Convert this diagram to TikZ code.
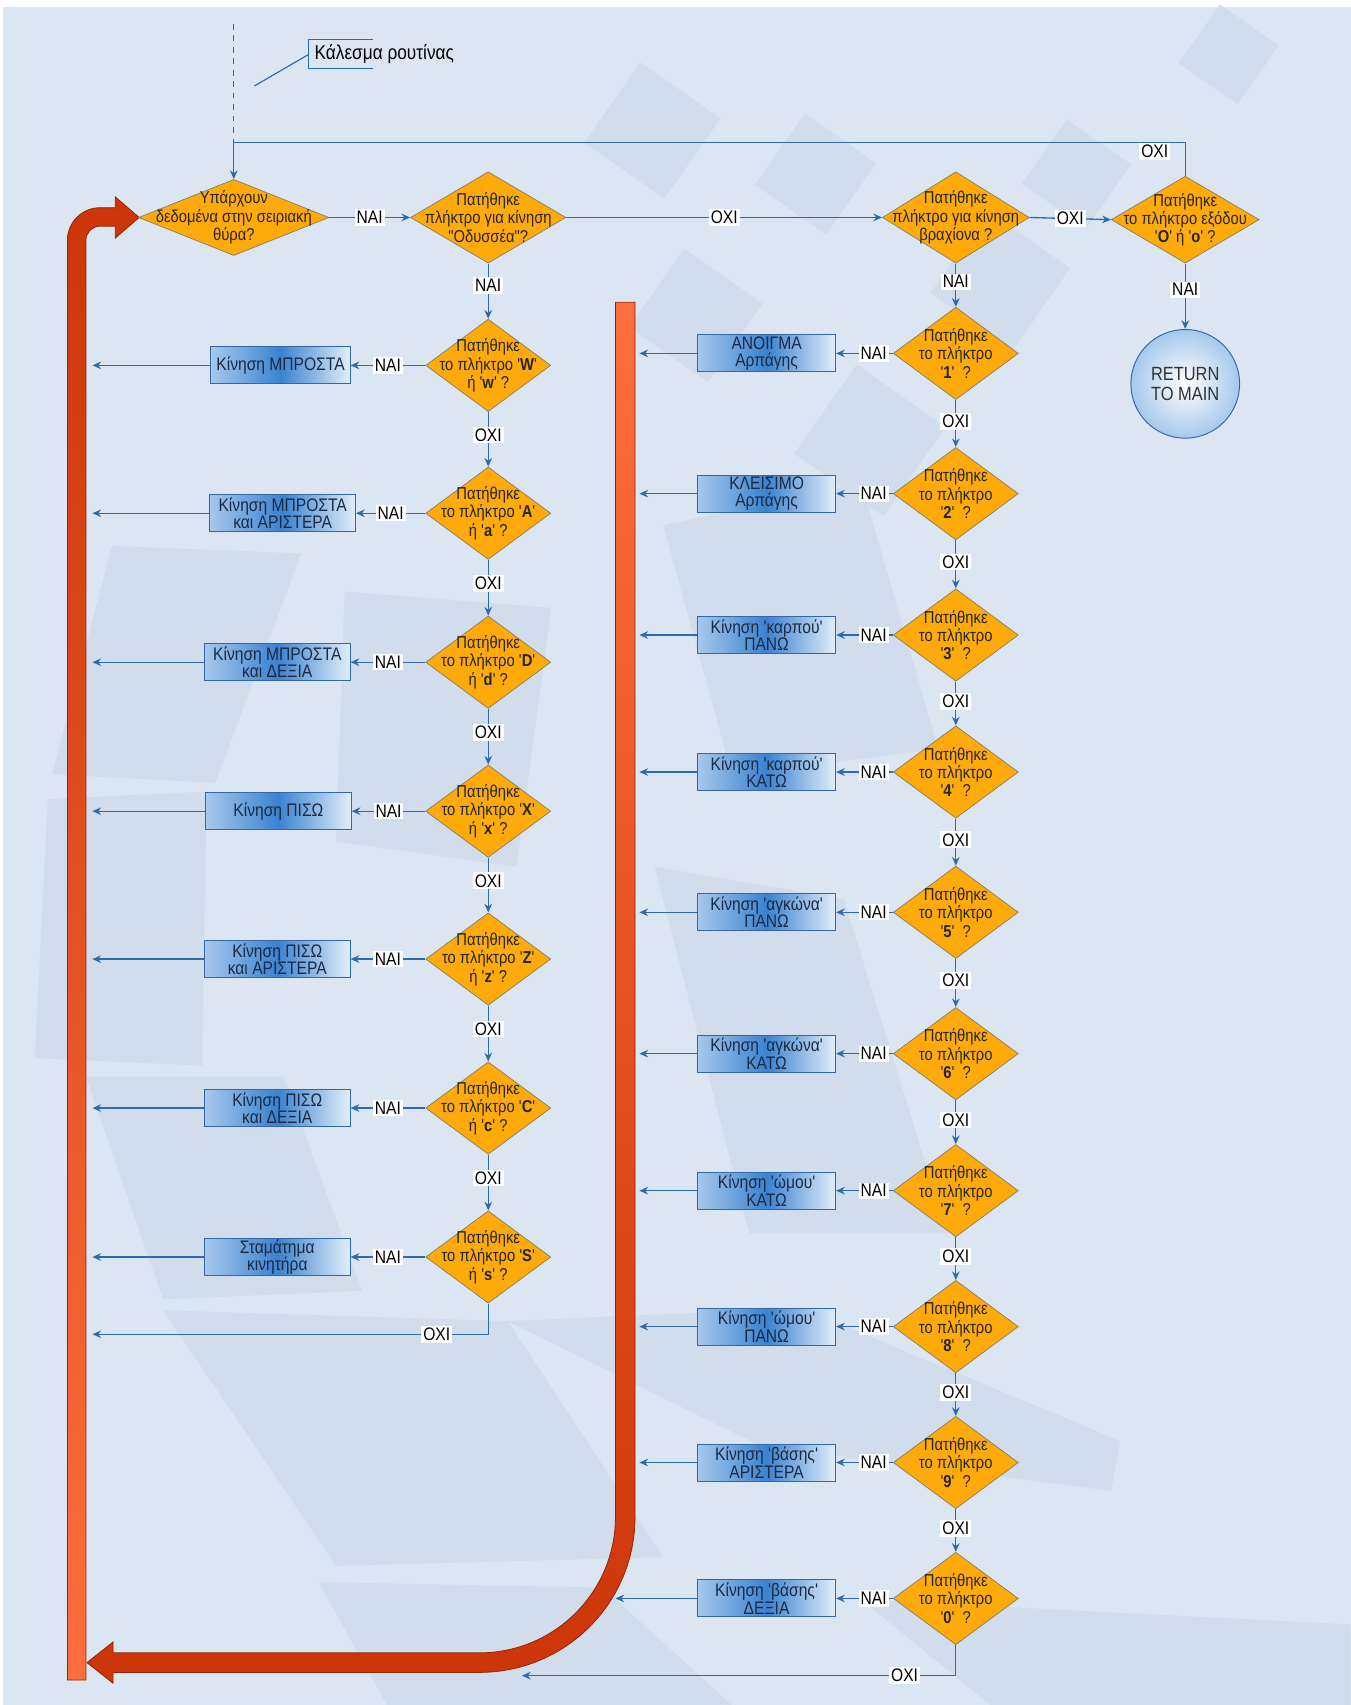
\documentclass[tikz,border=0pt]{standalone}
\usepackage{fontspec}
\newfontfamily\flowfont{Liberation Sans}[FakeStretch=0.86]
\usetikzlibrary{shapes.geometric,arrows.meta}

\definecolor{bgblue}{HTML}{DCE6F2}
\definecolor{wmblue}{HTML}{D1DDEC}
\definecolor{linecol}{HTML}{2E6AAE}
\definecolor{qfill}{HTML}{FDAA0A}
\definecolor{qedge}{HTML}{8C8060}
\definecolor{boxdark}{HTML}{3A82D0}
\definecolor{boxlight}{HTML}{A6C8EC}
\definecolor{boxwhite}{HTML}{E2EEF9}
\definecolor{boxedge}{HTML}{3566A6}
\definecolor{txtnavy}{HTML}{1B2A44}
\definecolor{arrred}{HTML}{CC3508}
\definecolor{arrmid}{HTML}{FF4A12}
\definecolor{arrorange}{HTML}{FF6E3E}

\tikzset{
  flow/.style={draw=linecol, line width=0.7pt, -{Stealth[length=1.6mm,width=1.4mm]}},
  quest/.style={shape=diamond, draw=qedge, fill=qfill, line width=0.4pt,
    minimum width=2.3cm, minimum height=1.7cm, inner sep=0pt},
  qtext/.style={align=center, text=black!85, inner sep=0pt,
    font=\flowfont\fontsize{9}{9.6}\selectfont},
  act/.style={draw=boxedge, line width=0.5pt, left color=boxlight, right color=boxwhite,
    middle color=boxdark, minimum width=2.68cm, minimum height=0.68cm, inner sep=0pt,
    align=center, text=txtnavy, font=\flowfont\fontsize{9.5}{9.2}\selectfont},
  endc/.style={shape=circle, draw=boxedge, line width=0.5pt, inner color=white,
    outer color=boxlight, minimum size=2cm, inner sep=0pt, align=center,
    text=black!80, font=\flowfont\fontsize{10}{10.5}\selectfont},
  lbl/.style={fill=white, inner sep=1pt, font=\flowfont\fontsize{9.5}{10}\selectfont},
  bigarrow/.style={draw=arrred!70!black, line width=0.4pt},
  wm/.style={fill=wmblue}
}

\begin{document}
\begin{tikzpicture}[x=0.02cm, y=-0.02cm]
\useasboundingbox (0,0) rectangle (1242,1568);

% Background and watermark
\fill[white] (0,0) rectangle (1242,1568);
\fill[bgblue] (3,6) rectangle (1242,1568);
\foreach \cx/\cy/\s in {600/120/90, 750/160/80, 990/160/72, 1130/50/66,
                        640/290/88, 920/258/92, 800/405/100}
  \fill[wm, rotate around={-35:(\cx,\cy)}] (\cx-\s/2,\cy-\s/2) rectangle (\cx+\s/2,\cy+\s/2);
\fill[wm] (103,502) -- (277,509) -- (198,720) -- (48,712) -- cycle;
\fill[wm] (44,735) -- (190,728) -- (186,980) -- (32,973) -- cycle;
\fill[wm] (79,990) -- (261,990) -- (333,1187) -- (150,1195) -- cycle;
\fill[wm] (150,1205) -- (467,1215) -- (610,1432) -- (309,1440) -- cycle;
\fill[wm] (293,1455) -- (554,1460) -- (673,1568) -- (356,1568) -- cycle;
\fill[wm] (317,544) -- (507,559) -- (475,797) -- (309,774) -- cycle;
\fill[wm] (610,483) -- (792,444) -- (863,689) -- (673,712) -- cycle;
\fill[wm] (602,797) -- (776,827) -- (871,1134) -- (689,1134) -- cycle;
\fill[wm] (467,1215) -- (737,1203) -- (1030,1325) -- (1022,1371) -- (700,1330) -- cycle;
\fill[wm] (792,1471) -- (1242,1494) -- (1242,1568) -- (911,1568) -- cycle;

% Thick return arrows
\shadedraw[bigarrow, top color=arrred, bottom color=arrorange]
  (62,1545) -- (62,221) .. controls (62,204.4) and (75.4,191) .. (92,191)
  -- (106,191) -- (106,181) -- (128,200) -- (106,219) -- (106,208) -- (92,208)
  .. controls (84.8,208) and (79,213.8) .. (79,221) -- (79,1545) -- cycle;
\shadedraw[bigarrow, top color=arrorange, middle color=arrmid, bottom color=arrred]
  (584,278) -- (584,1395) .. controls (584,1474) and (520,1538) .. (441,1538)
  -- (104,1538) -- (104,1548) -- (80,1529) -- (104,1510) -- (104,1520) -- (441,1520)
  .. controls (510,1520) and (566,1464) .. (566,1395) -- (566,278) -- cycle;

% Nodes
\newcommand{\qnode}[4][]{
	\node[quest, #1, label={[qtext]center:#4}] (#2) at (#3) {};
}
\newcommand{\bnode}[4][]{
	\node[act, #1] (#2) at (#3) {#4};
}
\node[anchor=west, inner sep=0pt, font=\flowfont\fontsize{10.5}{12}\selectfont] (note) at (289,50) {Κάλεσμα ρουτίνας};

\qnode[minimum width=3.5cm, minimum height=1.4cm]{data}{215,200}{Υπάρχουν\\δεδομένα στην σειριακή\\θύρα?}
\qnode[minimum width=2.86cm, minimum height=1.68cm]{odys}{449,200}{Πατήθηκε\\πλήκτρο για κίνηση\\"Οδυσσέα"?}
\qnode[minimum width=2.7cm, minimum height=1.68cm]{arm}{879,200}{Πατήθηκε\\πλήκτρο για κίνηση\\βραχίονα ?}
\qnode[minimum width=2.72cm, minimum height=1.6cm]{quit}{1090,202}{Πατήθηκε\\το πλήκτρο εξόδου\\'\textbf{O}' ή '\textbf{o}' ?}
\node[endc] (ret) at (1090,353) {RETURN\\TO MAIN};

% Left column
\qnode{kW}{449,336}{Πατήθηκε\\το πλήκτρο '\textbf{W}'\\ή '\textbf{w}' ?}
\qnode{kA}{449,472}{Πατήθηκε\\το πλήκτρο '\textbf{A}'\\ή '\textbf{a}' ?}
\qnode{kD}{449,609}{Πατήθηκε\\το πλήκτρο '\textbf{D}'\\ή '\textbf{d}' ?}
\qnode{kX}{449,746}{Πατήθηκε\\το πλήκτρο '\textbf{X}'\\ή '\textbf{x}' ?}
\qnode{kZ}{449,882}{Πατήθηκε\\το πλήκτρο '\textbf{Z}'\\ή '\textbf{z}' ?}
\qnode{kC}{449,1019}{Πατήθηκε\\το πλήκτρο '\textbf{C}'\\ή '\textbf{c}' ?}
\qnode{kS}{449,1156}{Πατήθηκε\\το πλήκτρο '\textbf{S}'\\ή '\textbf{s}' ?}

\bnode[minimum width=2.56cm]{bW}{258,336}{Κίνηση ΜΠΡΟΣΤΑ}
\bnode{bA}{260,472}{Κίνηση ΜΠΡΟΣΤΑ\\και ΑΡΙΣΤΕΡΑ}
\bnode{bD}{255,609}{Κίνηση ΜΠΡΟΣΤΑ\\και ΔΕΞΙΑ}
\bnode{bX}{256,746}{Κίνηση ΠΙΣΩ}
\bnode{bZ}{255,882}{Κίνηση ΠΙΣΩ\\και ΑΡΙΣΤΕΡΑ}
\bnode{bC}{255,1019}{Κίνηση ΠΙΣΩ\\και ΔΕΞΙΑ}
\bnode{bS}{255,1156}{Σταμάτημα\\κινητήρα}

% Right column
\qnode{k1}{879,325}{Πατήθηκε\\το πλήκτρο\\'\textbf{1}'\ \ ?}
\qnode{k2}{879,454}{Πατήθηκε\\το πλήκτρο\\'\textbf{2}'\ \ ?}
\qnode{k3}{879,584}{Πατήθηκε\\το πλήκτρο\\'\textbf{3}'\ \ ?}
\qnode{k4}{879,710}{Πατήθηκε\\το πλήκτρο\\'\textbf{4}'\ \ ?}
\qnode{k5}{879,839}{Πατήθηκε\\το πλήκτρο\\'\textbf{5}'\ \ ?}
\qnode{k6}{879,969}{Πατήθηκε\\το πλήκτρο\\'\textbf{6}'\ \ ?}
\qnode{k7}{879,1095}{Πατήθηκε\\το πλήκτρο\\'\textbf{7}'\ \ ?}
\qnode{k8}{879,1220}{Πατήθηκε\\το πλήκτρο\\'\textbf{8}'\ \ ?}
\qnode{k9}{879,1345}{Πατήθηκε\\το πλήκτρο\\'\textbf{9}'\ \ ?}
\qnode{k0}{879,1470}{Πατήθηκε\\το πλήκτρο\\'\textbf{0}'\ \ ?}

\bnode[minimum width=2.54cm]{b1}{705,325}{ΑΝΟΙΓΜΑ\\Αρπάγης}
\bnode[minimum width=2.54cm]{b2}{705,454}{ΚΛΕΙΣΙΜΟ\\Αρπάγης}
\bnode[minimum width=2.54cm]{b3}{705,584}{Κίνηση 'καρπού'\\ΠΑΝΩ}
\bnode[minimum width=2.54cm]{b4}{705,710}{Κίνηση 'καρπού'\\ΚΑΤΩ}
\bnode[minimum width=2.54cm]{b5}{705,839}{Κίνηση 'αγκώνα'\\ΠΑΝΩ}
\bnode[minimum width=2.54cm]{b6}{705,969}{Κίνηση 'αγκώνα'\\ΚΑΤΩ}
\bnode[minimum width=2.54cm]{b7}{705,1095}{Κίνηση 'ώμου'\\ΚΑΤΩ}
\bnode[minimum width=2.54cm]{b8}{705,1220}{Κίνηση 'ώμου'\\ΠΑΝΩ}
\bnode[minimum width=2.54cm]{b9}{705,1345}{Κίνηση 'βάσης'\\ΑΡΙΣΤΕΡΑ}
\bnode[minimum width=2.54cm]{b0}{705,1470}{Κίνηση 'βάσης'\\ΔΕΞΙΑ}

% Free ends
\coordinate (call)  at (215,22);
\coordinate (loop)  at (215,131);
\coordinate (lbar)  at (85,0);
\coordinate (rbar)  at (588,0);
\coordinate (rbend) at (566,0);
\coordinate (sout)  at (85,1227);
\coordinate (zout)  at (480,1541);
\coordinate (tail)  at (234,79);
\coordinate (brk)   at (284,50);

% Arrows
\newcommand{\nai}[3][0.5]{
	\draw[flow] (#2) -- node[lbl, pos=#1] {ΝΑΙ} (#3);
}
\newcommand{\oxi}[3][0.5]{
	\draw[flow] (#2) -- node[lbl, pos=#1] {ΟΧΙ} (#3);
}
\newcommand{\tobar}[2]{
	\draw[flow] (#1.west) -- (#1.west -| #2);
}
\draw[linecol, line width=0.6pt] (343,36) -- (284,36) -- (284,63) -- (343,63);
\draw[linecol, line width=0.6pt] (tail) -- (brk);
\draw[linecol, line width=0.7pt, dashed] (call) -- (loop);
\draw[flow] (quit.north) |- node[lbl, pos=0.516, anchor=north] {ΟΧΙ} (loop) -- (data.north);

\nai      {data.east}  {odys.west}
\oxi      {odys.east}  {arm.west}
\oxi      {arm.east}   {quit.west}
\nai[0.4] {quit.south} {ret.north}
\nai[0.4] {odys.south} {kW.north}
\nai[0.42]{arm.south}  {k1.north}

\nai{kW.west}{bW.east} \oxi[0.42]{kW.south}{kA.north} \tobar{bW}{lbar}
\nai{kA.west}{bA.east} \oxi[0.42]{kA.south}{kD.north} \tobar{bA}{lbar}
\nai{kD.west}{bD.east} \oxi[0.42]{kD.south}{kX.north} \tobar{bD}{lbar}
\nai{kX.west}{bX.east} \oxi[0.42]{kX.south}{kZ.north} \tobar{bX}{lbar}
\nai{kZ.west}{bZ.east} \oxi[0.42]{kZ.south}{kC.north} \tobar{bZ}{lbar}
\nai{kC.west}{bC.east} \oxi[0.42]{kC.south}{kS.north} \tobar{bC}{lbar}
\nai{kS.west}{bS.east} \tobar{bS}{lbar}
\draw[flow] (kS.south) |- node[lbl, pos=0.565] {ΟΧΙ} (sout);

\nai[0.34]{k1.west}{b1.east} \oxi[0.45]{k1.south}{k2.north} \tobar{b1}{rbar}
\nai[0.34]{k2.west}{b2.east} \oxi[0.45]{k2.south}{k3.north} \tobar{b2}{rbar}
\nai[0.34]{k3.west}{b3.east} \oxi[0.45]{k3.south}{k4.north} \tobar{b3}{rbar}
\nai[0.34]{k4.west}{b4.east} \oxi[0.45]{k4.south}{k5.north} \tobar{b4}{rbar}
\nai[0.34]{k5.west}{b5.east} \oxi[0.45]{k5.south}{k6.north} \tobar{b5}{rbar}
\nai[0.34]{k6.west}{b6.east} \oxi[0.45]{k6.south}{k7.north} \tobar{b6}{rbar}
\nai[0.34]{k7.west}{b7.east} \oxi[0.45]{k7.south}{k8.north} \tobar{b7}{rbar}
\nai[0.34]{k8.west}{b8.east} \oxi[0.45]{k8.south}{k9.north} \tobar{b8}{rbar}
\nai[0.34]{k9.west}{b9.east} \oxi[0.45]{k9.south}{k0.north} \tobar{b9}{rbar}
\nai[0.34]{k0.west}{b0.east} \tobar{b0}{rbend}
\draw[flow] (k0.south) |- node[lbl, pos=0.559] {ΟΧΙ} (zout);
\end{tikzpicture}
\end{document}
